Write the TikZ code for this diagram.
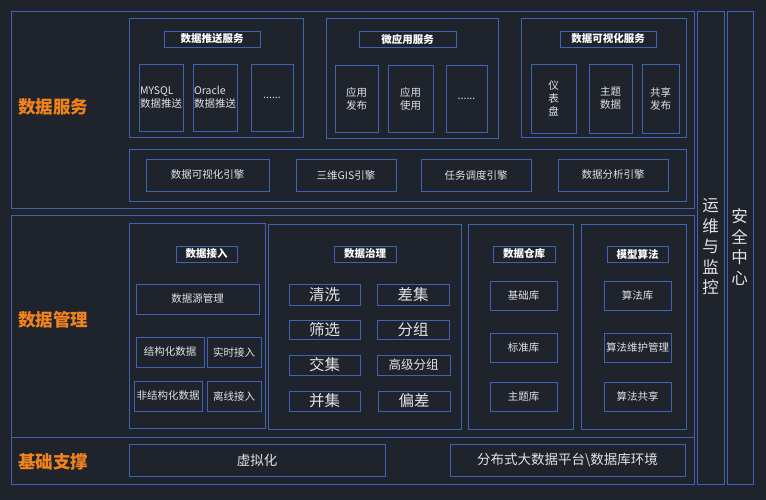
\documentclass[tikz,border=0pt]{standalone}
\usepackage{fontspec}
\setmainfont{Noto Sans CJK SC}
\definecolor{bg}{HTML}{1E232C}
\definecolor{ln}{HTML}{3F62B5}
\definecolor{tx}{HTML}{E2E2E2}
\definecolor{org}{HTML}{F2821C}
\newcommand\bx[7][]{\node[box,#1,minimum width={(#5-#3)*1pt},minimum height={(#6-#4)*1pt}] (#2) at ({(#3+#5)/2},{(#4+#6)/2}) {#7};}
\begin{document}
\begin{tikzpicture}[x=1pt,y=-1pt,
  box/.style={draw=ln,line width=0.9pt,inner sep=0pt,text=tx,align=center,font=\fontsize{10.5}{13}\selectfont},
  frame/.style={box},
  ttl/.style={box,font=\fontsize{10.5}{12}\selectfont\bfseries,text=white},
  big/.style={box,font=\fontsize{15.5}{18}\selectfont},
  lbl/.style={text=org,font=\fontsize{17.5}{20}\selectfont\bfseries},
  vt/.style={text=tx,align=center,font=\fontsize{16.5}{20.5}\selectfont}]
\useasboundingbox (0,0) rectangle (766,500);
\fill[bg] (0,0) rectangle (766,500);
% main frames
\bx{F1}{11}{11}{694}{208}{}
\bx{F2}{11}{215}{694}{437}{}
\bx{F3}{11}{437}{694}{484}{}
\bx{R1}{697}{11}{724}{484}{}
\bx{R2}{727}{11}{753}{484}{}
\node[lbl] (L1) at (53,107) {数据服务};
\node[lbl] (L2) at (53,320) {数据管理};
\node[lbl] (L3) at (53,462) {基础支撑};
\node[vt] (V1) at (710.5,247) {运\\维\\与\\监\\控};
\node[vt] (V2) at (739.5,247) {安\\全\\中\\心};
% data services
\bx{G1}{129}{18}{303}{137}{}
\bx[ttl]{T1}{164}{31}{260}{47}{数据推送服务}
\bx[align=left]{S11}{139}{64}{183}{131}{MYSQL\\数据推送}
\bx[align=left]{S12}{193}{64}{237}{131}{Oracle\\数据推送}
\bx{S13}{251}{64}{293}{131}{......}
\bx{G2}{326}{18}{498}{138}{}
\bx[ttl]{T2}{359}{31}{456}{47}{微应用服务}
\bx{S21}{335}{65}{378}{132}{应用\\发布}
\bx{S22}{388}{65}{433}{132}{应用\\使用}
\bx{S23}{446}{65}{487}{132}{......}
\bx{G3}{521}{18}{686}{137}{}
\bx[ttl]{T3}{560}{31}{656}{47}{数据可视化服务}
\bx{S31}{531}{64}{576}{133}{仪\\表\\盘}
\bx{S32}{589}{64}{632}{133}{主题\\数据}
\bx{S33}{642}{64}{679}{133}{共享\\发布}
\bx{E}{129}{149}{686}{201}{}
\bx{E1}{146}{159}{269}{191}{数据可视化引擎}
\bx{E2}{296}{159}{396}{191}{三维GIS引擎}
\bx{E3}{421}{159}{531}{191}{任务调度引擎}
\bx{E4}{558}{159}{668}{191}{数据分析引擎}
% data management
\bx{A}{129}{223}{265}{428}{}
\bx[ttl]{TA}{176}{246}{237}{262}{数据接入}
\bx{A1}{136}{284}{259}{314}{数据源管理}
\bx{A2}{136}{337}{204}{367}{结构化数据}
\bx{A3}{207}{337}{261}{367}{实时接入}
\bx{A4}{134}{381}{202}{411}{非结构化数据}
\bx{A5}{207}{381}{261}{411}{离线接入}
\bx{B}{268}{224}{461}{429}{}
\bx[ttl]{TB}{334}{246}{396}{262}{数据治理}
\bx[big]{B1}{289}{284}{360}{305}{清洗}
\bx[big]{B2}{377}{284}{449}{305}{差集}
\bx[big]{B3}{289}{320}{360}{339}{筛选}
\bx[big]{B4}{377}{320}{449}{339}{分组}
\bx[big]{B5}{289}{355}{360}{375}{交集}
\bx[box,font=\fontsize{12.5}{14}\selectfont]{B6}{377}{355}{450}{375}{高级分组}
\bx[big]{B7}{289}{391}{360}{411}{并集}
\bx[big]{B8}{378}{391}{450}{411}{偏差}
\bx{C}{468}{224}{573}{429}{}
\bx[ttl]{TC}{493}{246}{555}{262}{数据仓库}
\bx{C1}{490}{281}{557}{310}{基础库}
\bx{C2}{490}{333}{557}{362}{标准库}
\bx{C3}{490}{382}{557}{411}{主题库}
\bx{D}{581}{224}{686}{429}{}
\bx[ttl]{TD}{607}{246}{668}{262}{模型算法}
\bx{D1}{604}{281}{671}{310}{算法库}
\bx{D2}{604}{333}{671}{362}{算法维护管理}
\bx{D3}{604}{382}{671}{411}{算法共享}
% base support
\bx[font=\fontsize{13.5}{16}\selectfont]{P1}{129}{444}{385}{476}{虚拟化}
\bx[font=\fontsize{13.5}{16}\selectfont]{P2}{450}{444}{685}{476}{分布式大数据平台\textbackslash 数据库环境}
\end{tikzpicture}
\end{document}
